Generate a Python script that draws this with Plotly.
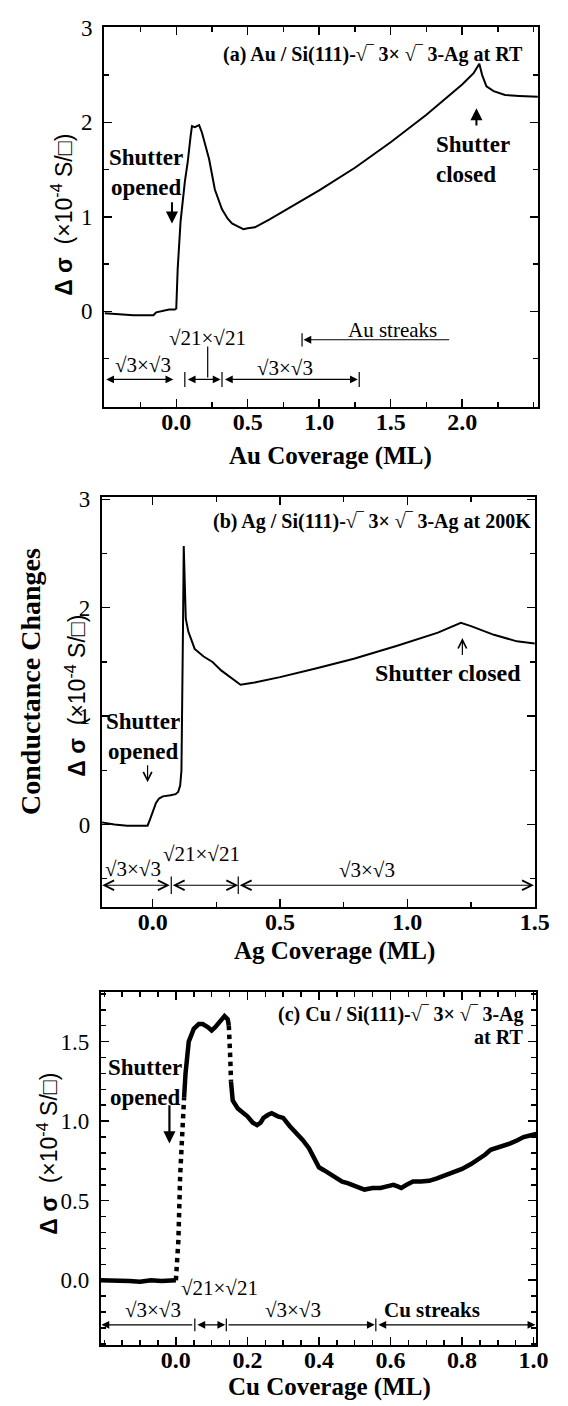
import plotly.graph_objects as go

# ---------------- data ----------------
# (a) Au / Si(111)-sqrt3 x sqrt3-Ag at RT
au_cov = [-0.5, -0.4, -0.3, -0.2, -0.16, -0.14, -0.1, -0.05, -0.01, 0.0, 0.01, 0.03, 0.06, 0.08,
          0.1, 0.11, 0.13, 0.16, 0.18, 0.2, 0.23, 0.27, 0.32, 0.36, 0.39, 0.43, 0.47, 0.5, 0.55,
          0.65, 0.75, 0.9, 1.0, 1.25, 1.5, 1.75, 2.0, 2.08, 2.12, 2.14, 2.17, 2.22, 2.3, 2.4, 2.53]
au_ds = [-0.02, -0.03, -0.04, -0.04, -0.04, -0.01, 0.0, 0.02, 0.02, 0.03, 0.45, 0.95, 1.37, 1.58,
         1.85, 1.96, 1.95, 1.97, 1.89, 1.78, 1.61, 1.29, 1.08, 0.98, 0.93, 0.9, 0.87, 0.88, 0.89,
         0.97, 1.06, 1.19, 1.28, 1.52, 1.79, 2.08, 2.40, 2.52, 2.62, 2.5, 2.38, 2.33, 2.29, 2.28, 2.27]

# (b) Ag / Si(111)-sqrt3 x sqrt3-Ag at 200K
ag_cov = [-0.2, -0.15, -0.1, -0.05, -0.02, -0.01, 0.0, 0.013, 0.025, 0.04, 0.07, 0.09, 0.1, 0.108,
          0.113, 0.116, 0.119, 0.122, 0.125, 0.13, 0.14, 0.165, 0.2, 0.235, 0.27, 0.345, 0.4, 0.5,
          0.64, 0.79, 0.96, 1.12, 1.21, 1.25, 1.34, 1.43, 1.5]
ag_ds = [0.02, 0.0, -0.01, -0.01, -0.01, 0.05, 0.12, 0.2, 0.24, 0.26, 0.27, 0.28, 0.3, 0.36,
         0.5, 1.0, 1.8, 2.57, 2.2, 1.9, 1.78, 1.62, 1.55, 1.5, 1.42, 1.29, 1.31, 1.36,
         1.44, 1.53, 1.65, 1.77, 1.86, 1.83, 1.75, 1.69, 1.67]

# (c) Cu / Si(111)-sqrt3 x sqrt3-Ag at RT
cu_cov_flat = [-0.21, -0.17, -0.13, -0.1, -0.07, -0.04, -0.02, 0.0]
cu_ds_flat = [0.0, 0.0, -0.005, -0.01, 0.0, -0.005, 0.0, 0.0]
cu_cov_rise = [0.0, 0.002, 0.007, 0.012, 0.018, 0.023]
cu_ds_rise = [0.0, 0.08, 0.25, 0.66, 0.98, 1.15]
cu_cov_plateau = [0.023, 0.027, 0.036, 0.05, 0.064, 0.075, 0.09, 0.1, 0.11, 0.12, 0.136, 0.145, 0.148]
cu_ds_plateau = [1.15, 1.30, 1.50, 1.58, 1.61, 1.61, 1.59, 1.57, 1.59, 1.62, 1.66, 1.64, 1.60]
cu_cov_drop = [0.148, 0.15, 0.152, 0.153, 0.154]
cu_ds_drop = [1.60, 1.54, 1.40, 1.33, 1.25]
cu_cov_tail = [0.154, 0.159, 0.173, 0.19, 0.2, 0.215, 0.227, 0.237, 0.245, 0.258, 0.268, 0.285,
               0.30, 0.318, 0.336, 0.355, 0.372, 0.388, 0.40, 0.415, 0.436, 0.45, 0.465, 0.48,
               0.5, 0.527, 0.55, 0.572, 0.59, 0.608, 0.62, 0.63, 0.645, 0.663, 0.685, 0.708,
               0.73, 0.754, 0.78, 0.8, 0.825, 0.845, 0.865, 0.88, 0.91, 0.935, 0.955, 0.972,
               0.99, 1.008]
cu_ds_tail = [1.25, 1.13, 1.08, 1.05, 1.03, 0.99, 0.975, 0.99, 1.02, 1.04, 1.05, 1.03,
              1.02, 0.97, 0.93, 0.88, 0.83, 0.76, 0.71, 0.69, 0.66, 0.64, 0.62, 0.61,
              0.59, 0.57, 0.58, 0.58, 0.59, 0.60, 0.59, 0.58, 0.60, 0.62, 0.62, 0.625,
              0.64, 0.66, 0.68, 0.70, 0.73, 0.756, 0.79, 0.82, 0.84, 0.86, 0.88, 0.90,
              0.91, 0.92]

# tick labels
a_xticks = [0.0, 0.5, 1.0, 1.5, 2.0]
a_yticks = [0, 1, 2, 3]
b_xticks = [0.0, 0.5, 1.0, 1.5]
b_yticks = [0, 1, 2, 3]
c_xticks = [0.0, 0.2, 0.4, 0.6, 0.8, 1.0]
c_yticks = [0.0, 0.5, 1.0, 1.5]

# ---------------- layout helpers ----------------
W, H = 568, 1406
SERIF = "Liberation Serif"
SANS = "Liberation Sans"


def px(x):
    return x / W


def py(y):
    return 1 - y / H


fig = go.Figure()

fig.add_trace(go.Scatter(x=au_cov, y=au_ds, mode="lines", line=dict(color="black", width=2),
                         xaxis="x", yaxis="y", showlegend=False, hoverinfo="skip"))
fig.add_trace(go.Scatter(x=ag_cov, y=ag_ds, mode="lines", line=dict(color="black", width=2),
                         xaxis="x2", yaxis="y2", showlegend=False, hoverinfo="skip"))
for xs, ys, dash in [(cu_cov_flat, cu_ds_flat, "solid"), (cu_cov_rise, cu_ds_rise, "dot"),
                     (cu_cov_plateau, cu_ds_plateau, "solid"), (cu_cov_drop, cu_ds_drop, "dot"),
                     (cu_cov_tail, cu_ds_tail, "solid")]:
    fig.add_trace(go.Scatter(x=xs, y=ys, mode="lines", line=dict(color="black", width=4.5, dash=dash),
                             xaxis="x3", yaxis="y3", showlegend=False, hoverinfo="skip"))


def ax_common(**kw):
    d = dict(showline=True, linewidth=2, linecolor="black", mirror="ticks", ticks="inside",
             ticklen=8, tickwidth=1.5, tickcolor="black", zeroline=False, showgrid=False,
             fixedrange=True)
    d.update(kw)
    return d


def mnr(dt):
    return dict(dtick=dt, tick0=0, ticks="inside", ticklen=5, tickwidth=1.5, tickcolor="black")


def xlab(v, fmt):
    return ["<b>" + fmt.format(t) + "</b>" for t in v]


XT = dict(family=SERIF, size=24)
YT = dict(family=SERIF, size=23)

fig.update_layout(
    width=W, height=H, margin=dict(l=0, r=0, t=0, b=0),
    plot_bgcolor="white", paper_bgcolor="white",
    font=dict(family=SERIF, color="black"),
    xaxis=ax_common(domain=[px(106.7), px(551.5)], range=[-0.505, 2.53], anchor="y",
                    tickvals=a_xticks, ticktext=xlab(a_xticks, "{:.1f}"), tickfont=XT,
                    ticklabelstandoff=-8, minor=mnr(0.25)),
    yaxis=ax_common(domain=[py(399), py(16)], range=[-1.01, 3.01], anchor="x",
                    tickvals=a_yticks, ticktext=[str(t) for t in a_yticks],
                    tickfont=YT, ticklabelstandoff=5, minor=mnr(0.5)),
    xaxis2=ax_common(domain=[px(104.3), px(549)], range=[-0.2, 1.503], anchor="y2",
                     tickvals=b_xticks, ticktext=xlab(b_xticks, "{:.1f}"), tickfont=XT,
                     ticklabelstandoff=-8, minor=mnr(0.25)),
    yaxis2=ax_common(domain=[py(903), py(490)], range=[-0.76, 3.02], anchor="x2",
                     tickvals=b_yticks, ticktext=[str(t) for t in b_yticks],
                     tickfont=YT, ticklabelstandoff=5, minor=mnr(0.5)),
    xaxis3=ax_common(domain=[px(103.3), px(550)], range=[-0.21, 1.008], anchor="y3",
                     tickvals=c_xticks, ticktext=xlab(c_xticks, "{:.1f}"), tickfont=XT,
                     ticklabelstandoff=-8, minor=mnr(0.05)),
    yaxis3=ax_common(domain=[py(1345), py(989)], range=[-0.41, 1.81], anchor="x3",
                     tickvals=c_yticks, ticktext=["{:.1f}".format(t) for t in c_yticks],
                     tickfont=YT, ticklabelstandoff=5, minor=mnr(0.1)),
)

ann = []
shapes = []


def text(x, y, s, ref, size=20, bold=False, xanchor="center", family=SERIF):
    xr, yr = ref
    ann.append(dict(x=x, y=y, xref=xr, yref=yr, text=("<b>%s</b>" % s) if bold else s,
                    showarrow=False, xanchor=xanchor, yanchor="middle", align=xanchor if xanchor != "right" else "right",
                    font=dict(family=family, size=size, color="black")))


def vtext(xp, yp, s, size, family):
    ann.append(dict(x=px(xp), y=py(yp), xref="paper", yref="paper", textangle=-90,
                    showarrow=False, xanchor="center", yanchor="middle", text=s,
                    font=dict(family=family, size=size, color="black")))


def arrow(x0, y0, x1, y1, ref, head=2, side="end", width=1.2, size=1.3):
    xr, yr = ref
    ann.append(dict(x=x1, y=y1, ax=x0, ay=y0, xref=xr, yref=yr, axref=xr, ayref=yr,
                    text="", showarrow=True, arrowhead=head, startarrowhead=head,
                    arrowside=side, arrowwidth=width, arrowsize=size, arrowcolor="black",
                    standoff=0, startstandoff=0))


def line(x0, y0, x1, y1, ref, width=1.2):
    xr, yr = ref
    shapes.append(dict(type="line", x0=x0, y0=y0, x1=x1, y1=y1, xref=xr, yref=yr,
                       line=dict(color="black", width=width)))


A = ("x", "y")
B = ("x2", "y2")
C = ("x3", "y3")
P = ("paper", "paper")
YTITLE = "<b>Δ σ</b>  (×10<sup>-4</sup> S/□)"

# ---- panel (a) ----
text(2.44, 2.72, "(a) Au / Si(111)-√‾ 3× √‾ 3-Ag at RT", A, size=20, bold=True, xanchor="right")
text(-0.215, 1.47, "Shutter<br>opened", A, size=23, bold=True)
arrow(-0.03, 1.17, -0.03, 0.93, A, head=2, width=2, size=1.2)
text(1.80, 1.61, "Shutter<br>closed", A, size=23, bold=True, xanchor="left")
arrow(2.1, 1.95, 2.1, 2.15, A, head=2, width=2, size=1.2)
text(-0.23, -0.57, "√3×√3", A, size=21)
text(0.22, -0.28, "√21×√21", A, size=21)
text(0.76, -0.60, "√3×√3", A, size=21)
text(1.51, -0.20, "Au streaks", A, size=21)
arrow(-0.01, -0.72, -0.49, -0.72, A, head=2, side="end+start")
arrow(0.07, -0.72, 0.31, -0.72, A, head=2, side="end+start")
arrow(0.33, -0.72, 1.27, -0.72, A, head=2, side="end+start")
for xb in [0.06, 0.32, 1.28]:
    line(xb, -0.64, xb, -0.80, A)
line(0.22, -0.37, 0.22, -0.70, A)
arrow(1.92, -0.30, 0.89, -0.30, A, head=2)
line(0.88, -0.23, 0.88, -0.37, A)
text(px(339), py(449), "Au Coverage (ML)", P, size=25, bold=True)
vtext(64, 205, YTITLE, 23, SANS)

# ---- panel (b) ----
text(1.495, 2.80, "(b) Ag / Si(111)-√‾ 3× √‾ 3-Ag at 200K", B, size=20, bold=True, xanchor="right")
text(-0.037, 0.81, "Shutter<br>opened", B, size=23, bold=True)
arrow(-0.02, 0.56, -0.02, 0.39, B, head=5, width=1.2, size=1.4)
text(1.16, 1.40, "Shutter closed", B, size=24, bold=True)
arrow(1.216, 1.55, 1.216, 1.72, B, head=5, width=1.2, size=1.4)
text(-0.077, -0.41, "√3×√3", B, size=21)
text(0.19, -0.27, "√21×√21", B, size=21)
text(0.84, -0.42, "√3×√3", B, size=21)
arrow(0.073, -0.56, -0.198, -0.56, B, head=5, side="end+start", size=1.6)
arrow(0.073, -0.56, 0.336, -0.56, B, head=5, side="end+start", size=1.6)
arrow(0.336, -0.56, 1.497, -0.56, B, head=5, side="end+start", size=1.6)
for xb in [0.073, 0.336]:
    line(xb, -0.48, xb, -0.64, B)
text(px(343), py(947), "Ag Coverage (ML)", P, size=25, bold=True)
vtext(77, 690, YTITLE, 23, SANS)
vtext(31, 676, "<b>Conductance Changes</b>", 28, SERIF)

# ---- panel (c) ----
text(0.98, 1.67, "(c) Cu / Si(111)-√‾ 3× √‾ 3-Ag", C, size=20, bold=True, xanchor="right")
text(0.975, 1.53, "at RT", C, size=20, bold=True, xanchor="right")
text(-0.086, 1.245, "Shutter<br>opened", C, size=23, bold=True)
arrow(-0.018, 1.11, -0.018, 0.86, C, head=2, width=2.2, size=1.1)
text(-0.064, -0.19, "√3×√3", C, size=21)
text(0.123, -0.046, "√21×√21", C, size=21)
text(0.327, -0.19, "√3×√3", C, size=21)
text(0.717, -0.19, "Cu streaks", C, size=21, bold=True)
arrow(0.05, -0.28, -0.208, -0.28, C, head=2)
arrow(0.056, -0.28, 0.138, -0.28, C, head=2, side="end+start")
arrow(0.143, -0.28, 0.556, -0.28, C, head=2)
arrow(0.562, -0.28, 1.005, -0.28, C, head=2, side="end+start")
for xb in [0.053, 0.141, 0.559]:
    line(xb, -0.24, xb, -0.32, C)
text(px(338), py(1387), "Cu Coverage (ML)", P, size=25, bold=True)
vtext(49, 1152, YTITLE, 23, SANS)

fig.update_layout(annotations=ann, shapes=shapes, hovermode=False)
fig.write_html("out.html", config={"displayModeBar": False, "staticPlot": True},
               post_script="document.body.style.margin='0px';")
